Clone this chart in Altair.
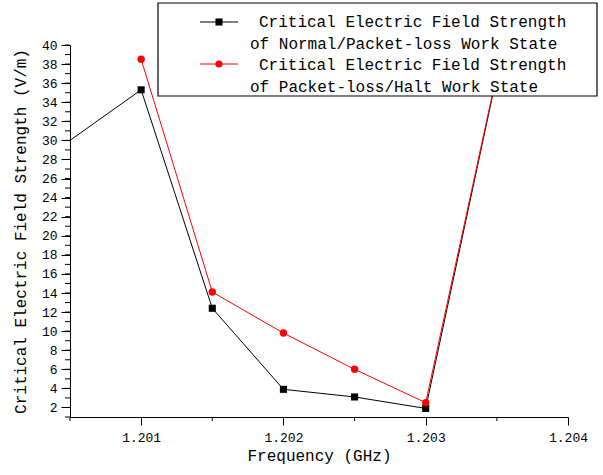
import altair as alt
import pandas as pd

# Frequencies (GHz) and critical field strengths (V/m)
freq_normal = [1.2000, 1.2010, 1.2015, 1.2020, 1.2025, 1.2030, 1.2035]
field_normal = [24.7, 35.3, 12.4, 3.9, 3.1, 1.9, 36.8]

freq_halt = [1.2010, 1.2015, 1.2020, 1.2025, 1.2030, 1.2035]
field_halt = [38.5, 14.1, 9.8, 6.0, 2.5, 37.0]

x_major = [1.201, 1.202, 1.203, 1.204]
x_minor = [1.2005, 1.2015, 1.2025, 1.2035]
y_major = list(range(2, 41, 2))
y_minor = list(range(1, 41))

legend_lines = [
    "Critical Electric Field Strength",
    "of Normal/Packet-loss Work State",
    "Critical Electric Field Strength",
    "of Packet-loss/Halt Work State",
]

FONT = "Liberation Mono"
W, H = 498, 372

df_normal = pd.DataFrame({"freq": freq_normal, "value": field_normal})
df_halt = pd.DataFrame({"freq": freq_halt, "value": field_halt})
df_xminor = pd.DataFrame({"freq": x_minor})
df_yminor = pd.DataFrame({"value": y_minor})
one = pd.DataFrame({"k": [0]})

x_scale = alt.Scale(domain=[1.2005, 1.204], nice=False, zero=False)
y_scale = alt.Scale(domain=[1, 40], nice=False, zero=False)

x_axis = alt.Axis(
    title="Frequency (GHz)", values=x_major, format=".3f", grid=False,
    tickSize=8, labelPadding=6, titlePadding=3,
    labelFont=FONT, labelFontSize=13, titleFont=FONT, titleFontSize=16,
    titleFontWeight="normal", labelColor="black", titleColor="black",
    domainColor="black", tickColor="black", labelFlush=False,
)
y_axis = alt.Axis(
    title="Critical Electric Field Strength (V/m)", values=y_major, grid=False,
    tickSize=9, labelPadding=4, titlePadding=13,
    labelFont=FONT, labelFontSize=13, titleFont=FONT, titleFontSize=16,
    titleFontWeight="normal", labelColor="black", titleColor="black",
    domainColor="black", tickColor="black",
)

X = alt.X("freq:Q", scale=x_scale, axis=x_axis)
Y = alt.Y("value:Q", scale=y_scale, axis=y_axis)

normal_line = alt.Chart(df_normal).mark_line(
    color="black", strokeWidth=1, clip=True
).encode(x=X, y=Y)
normal_pts = alt.Chart(df_normal).mark_point(
    shape="square", filled=True, color="black", size=50, opacity=1, clip=True
).encode(x=X, y=Y)

halt_line = alt.Chart(df_halt).mark_line(
    color="#ff0000", strokeWidth=1, clip=True
).encode(x=X, y=Y)
halt_pts = alt.Chart(df_halt).mark_point(
    shape="circle", filled=True, color="#ff0000", size=55, opacity=1, clip=True
).encode(x=X, y=Y)

# minor ticks
x_minor_ticks = alt.Chart(df_xminor).mark_rule(color="black", strokeWidth=1).encode(
    x=X, y=alt.value(H), y2=alt.value(H + 4)
)
y_minor_ticks = alt.Chart(df_yminor).mark_rule(color="black", strokeWidth=1).encode(
    y=Y, x=alt.value(-5), x2=alt.value(0)
)

# legend box
legend_box = alt.Chart(one).mark_rect(
    fill="white", stroke="black", strokeWidth=1.2
).encode(x=alt.value(88), x2=alt.value(527), y=alt.value(-42), y2=alt.value(51))

legend_marks = []
for y_px, color, shape in [(-23, "black", "square"), (19, "#ff0000", "circle")]:
    legend_marks.append(
        alt.Chart(one).mark_rule(color=color, strokeWidth=1).encode(
            x=alt.value(130), x2=alt.value(168), y=alt.value(y_px)
        )
    )
    legend_marks.append(
        alt.Chart(one).mark_point(
            shape=shape, filled=True, color=color, size=50, opacity=1
        ).encode(x=alt.value(149), y=alt.value(y_px))
    )

text_pos = [(189, -23), (180, -1), (189, 20), (180, 42)]
for label, (tx, ty) in zip(legend_lines, text_pos):
    legend_marks.append(
        alt.Chart(one).mark_text(
            text=label, font=FONT, fontSize=16, align="left", baseline="middle",
            color="black",
        ).encode(x=alt.value(tx), y=alt.value(ty))
    )

chart = alt.layer(
    x_minor_ticks, y_minor_ticks,
    normal_line, normal_pts, halt_line, halt_pts,
    legend_box, *legend_marks,
).properties(
    width=W, height=H,
    autosize=alt.AutoSizeParams(type="none"),
    padding={"left": 70, "top": 45, "right": 35, "bottom": 58},
    background="white",
).configure_view(stroke=None)

chart.save("out.html", embed_options={"renderer": "svg", "actions": False})
